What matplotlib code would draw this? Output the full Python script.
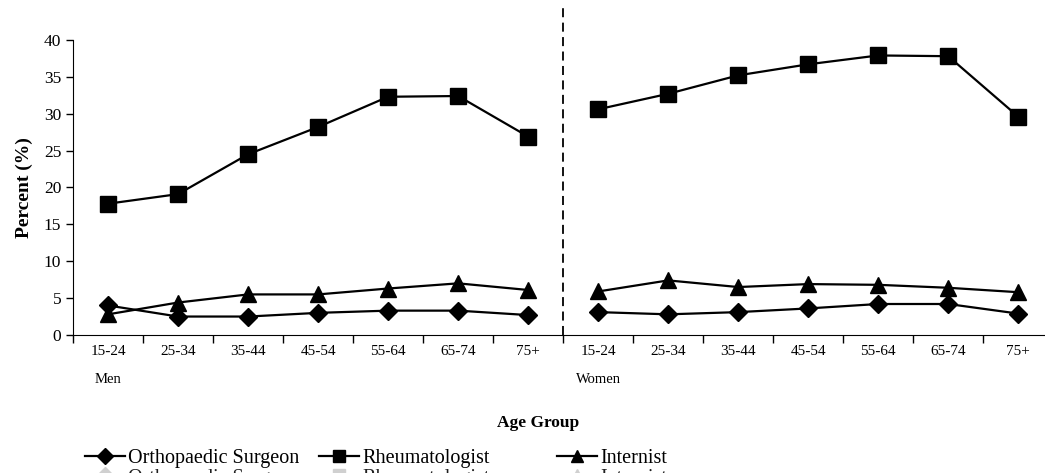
import numpy as np
import matplotlib
matplotlib.use("Agg")
import matplotlib.pyplot as plt
from matplotlib.lines import Line2D

plt.rcParams['font.family'] = ['Liberation Serif', 'DejaVu Serif']

age_groups = ['15-24', '25-34', '35-44', '45-54', '55-64', '65-74', '75+']
sexes = ['Men', 'Women']

ortho_men = [4.0, 2.5, 2.5, 3.0, 3.3, 3.3, 2.7]
ortho_women = [3.1, 2.8, 3.1, 3.6, 4.2, 4.2, 2.9]
rheum_men = [17.8, 19.1, 24.5, 28.2, 32.3, 32.4, 26.9]
rheum_women = [30.6, 32.7, 35.2, 36.7, 37.9, 37.8, 29.6]
intern_men = [2.8, 4.4, 5.5, 5.5, 6.3, 7.0, 6.1]
intern_women = [5.9, 7.4, 6.5, 6.9, 6.8, 6.4, 5.8]

series = [
    ('Orthopaedic Surgeon', 'D', 9, ortho_men, ortho_women),
    ('Rheumatologist', 's', 11, rheum_men, rheum_women),
    ('Internist', '^', 11, intern_men, intern_women),
]

fig = plt.figure(figsize=(10.45, 4.73), dpi=100)
ax = fig.add_axes([0.0699, 0.2918, 0.938, 0.6237])

n = len(age_groups)
x_men = np.arange(n)
x_women = np.arange(n) + n

for name, mk, ms, men, women in series:
    for xs, ys in ((x_men, men), (x_women, women)):
        ax.plot(xs, ys, color='black', lw=1.6, marker=mk, ms=ms,
                mfc='black', mec='black', clip_on=False, zorder=3)

ax.set_xlim(-0.5, 2 * n - 0.5)
ax.set_ylim(0, 40)
ax.set_yticks(np.arange(0, 41, 5))
ax.set_xticks(np.arange(-0.5, 2 * n, 1))
ax.set_xticklabels([])
ax.set_xticks(np.arange(2 * n), minor=True)
ax.set_xticklabels(age_groups * 2, minor=True)
ax.tick_params(axis='x', which='major', direction='out', length=6, width=1)
ax.tick_params(axis='x', which='minor', length=0, pad=7, labelsize=11)
ax.tick_params(axis='y', direction='out', length=5, width=1, labelsize=12.5)

for s in ('top', 'right'):
    ax.spines[s].set_visible(False)

# divider between men and women
ax.axvline(n - 0.5, ymin=0, ymax=1.12, color='black', ls=(0, (5, 3)), lw=1.3, clip_on=False)

ax.text(0, -0.13, sexes[0], transform=ax.get_xaxis_transform(), ha='center', va='top', fontsize=10.5)
ax.text(n, -0.13, sexes[1], transform=ax.get_xaxis_transform(), ha='center', va='top', fontsize=10.5)

ax.set_ylabel('Percent (%)', fontsize=14, fontweight='bold', labelpad=8)
fig.text(0.515, 0.105, 'Age Group', ha='center', va='center', fontsize=12.5, fontweight='bold')

# legend: one block per series, second (grey) row is cut off by the figure edge
leg_x = [0.081, 0.305, 0.533]
for (name, mk, ms, _, _), lx in zip(series, leg_x):
    h = [Line2D([], [], color='black', lw=1.6, marker=mk, ms=ms * 0.85),
         Line2D([], [], color='#d0d0d0', lw=1.6, marker=mk, ms=ms * 0.85)]
    leg = fig.legend(h, [name, name], loc='upper left', bbox_to_anchor=(lx, 0.05),
                     frameon=False, fontsize=14.5, handlelength=2.0, handletextpad=0.15,
                     labelspacing=0.0, borderpad=0, borderaxespad=0)
    leg.get_texts()[1].set_color('#202020')

fig.savefig('out.png', dpi=100)
